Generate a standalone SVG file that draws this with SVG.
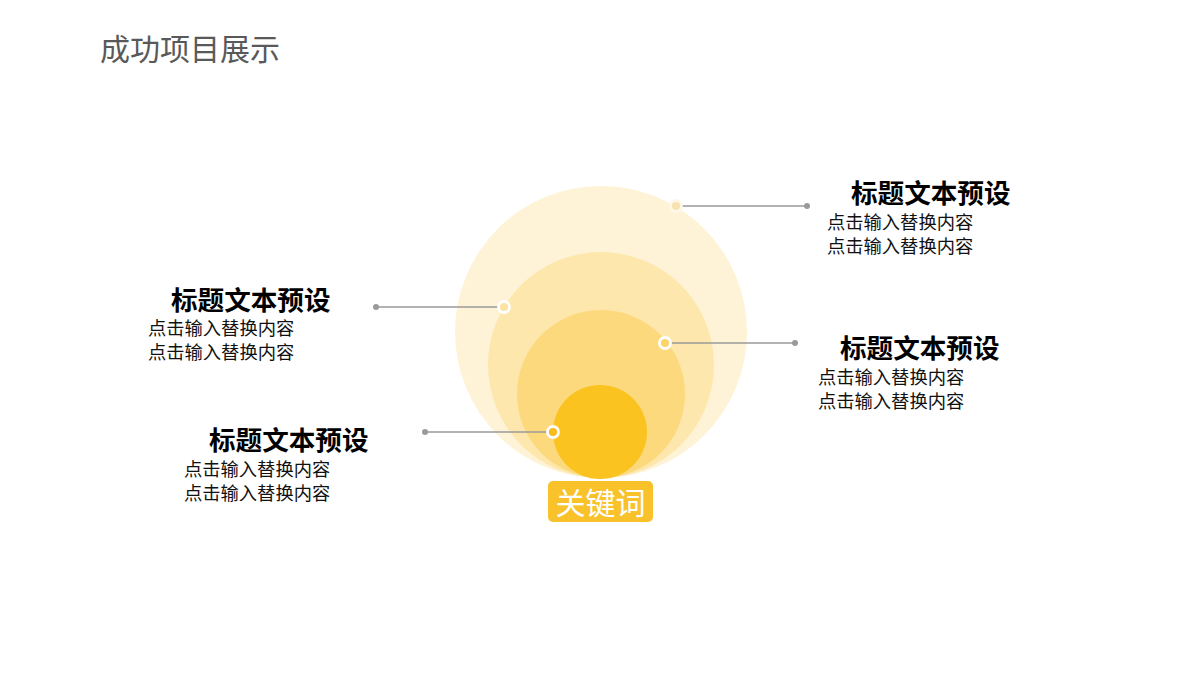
<svg xmlns="http://www.w3.org/2000/svg" width="1200" height="680" viewBox="0 0 1200 680">
<style>
.cjk{font-family:"Liberation Sans","Noto Sans CJK SC",sans-serif}
.t{font-size:26.6px;font-weight:bold;fill:#000}
.s{font-size:18.3px;fill:#111}
.ln{stroke:#9a9a9a;stroke-width:1.5}
.end{fill:#9a9a9a}
.mk{stroke:#fff;stroke-width:2.8}
</style>
<rect width="1200" height="680" fill="#fff"/>
<text class="cjk" x="100" y="60" font-size="30" fill="#595959">成功项目展示</text>
<g id="rings">
<circle cx="601" cy="332" r="146" fill="#FEF3D6"/>
<circle cx="601" cy="365" r="113" fill="#FDE7AC"/>
<circle cx="601" cy="394" r="84" fill="#FCD97C"/>
<circle cx="600" cy="432" r="47" fill="#FAC320"/>
</g>
<g id="connectors">
<line class="ln" x1="681" y1="206" x2="807" y2="206"/><circle class="end" cx="807" cy="206" r="3"/>
<line class="ln" x1="376" y1="307" x2="499" y2="307"/><circle class="end" cx="376" cy="307" r="3"/>
<line class="ln" x1="670" y1="343" x2="795" y2="343"/><circle class="end" cx="795" cy="343" r="3"/>
<line class="ln" x1="425" y1="432" x2="548" y2="432"/><circle class="end" cx="425" cy="432" r="3"/>
<circle cx="676" cy="206" r="5.5" fill="#F8E3B0" stroke="#FFF8E8" stroke-width="2.8"/>
<circle class="mk" cx="504" cy="307" r="5.5" fill="#FCE3A0"/>
<circle class="mk" cx="665" cy="343" r="5.5" fill="#FBD56C"/>
<circle class="mk" cx="553" cy="432" r="5.5" fill="#F7BD1E"/>
</g>
<g id="keyword">
<rect x="548" y="481" width="105" height="41" rx="5" fill="#F9C22B"/>
<text class="cjk" x="600.5" y="514" font-size="30" fill="#fff" text-anchor="middle">关键词</text>
</g>
<g id="item-top-right" class="cjk">
<text class="t" x="851" y="203">标题文本预设</text>
<text class="s" x="827" y="229">点击输入替换内容</text>
<text class="s" x="827" y="253">点击输入替换内容</text>
</g>
<g id="item-left" class="cjk">
<text class="t" x="171" y="310">标题文本预设</text>
<text class="s" x="148" y="335">点击输入替换内容</text>
<text class="s" x="148" y="359">点击输入替换内容</text>
</g>
<g id="item-right" class="cjk">
<text class="t" x="840" y="358">标题文本预设</text>
<text class="s" x="818" y="384">点击输入替换内容</text>
<text class="s" x="818" y="408">点击输入替换内容</text>
</g>
<g id="item-bottom-left" class="cjk">
<text class="t" x="209" y="450">标题文本预设</text>
<text class="s" x="184" y="476">点击输入替换内容</text>
<text class="s" x="184" y="500">点击输入替换内容</text>
</g>
</svg>
